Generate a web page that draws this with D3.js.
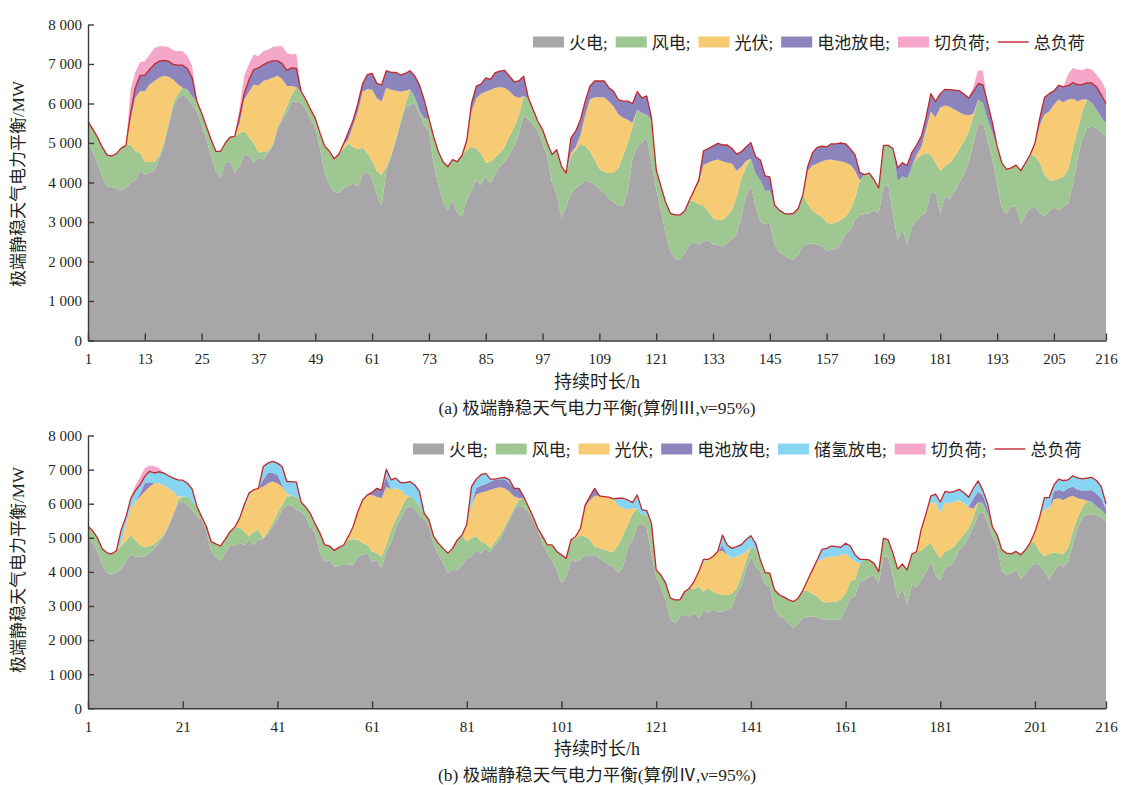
<!DOCTYPE html>
<meta charset="utf-8">
<style>
    body { margin: 0; background: #fff; }
    svg text { font-family: "Liberation Serif", "Noto Sans CJK SC", serif; fill: #231f20; }
    .axis path, .axis line { stroke: #3a3a3a; stroke-width: 1.4; }
    .axis text { font-size: 15px; }
</style>
<body>
<script src="https://cdn.jsdelivr.net/npm/d3@7/dist/d3.min.js"></script>
<script>

    // hours 1..216, one row per day (24 values)
    var hours = d3.range(1, 217);

    // ---------- (a) case III ----------
    var thermalA = [
        5000,4790,4500,4150,3910,3880,3870,3790,3870,3990,4070,4290,4200,4240,4310,4580,4920,5430,5930,6140,6220,6140,5970,5800,
        5460,5080,4670,4300,4120,4500,4540,4240,4410,4710,4670,4500,4620,4580,4750,4920,5340,5590,5760,6050,6050,6010,5840,5590,
        5420,4850,4250,3950,3760,3730,3850,3930,3970,3900,4200,4270,4100,3700,3400,4300,4650,5050,5500,5900,5960,6000,5750,5450,
        5300,4480,3930,3510,3300,3560,3220,3140,3560,3800,4060,3940,4170,3980,4230,4420,4530,4700,4930,5230,5690,5600,5470,5300,
        5000,4670,4000,3700,3100,3400,3720,3850,3950,4060,4010,3950,3850,3750,3600,3500,3420,3400,3800,4600,4900,5000,5150,4500,
        3850,3300,2700,2250,2080,2040,2200,2420,2500,2430,2500,2540,2430,2420,2370,2470,2560,2710,3150,3650,3930,3390,3000,2950,
        3000,2420,2250,2160,2080,2040,2170,2400,2440,2460,2430,2400,2280,2300,2320,2450,2700,2800,3050,3180,3200,3220,3300,3220,
        3900,3930,3220,2550,2800,2450,2880,3050,3150,3250,3770,3720,3200,3650,3580,3750,4000,4200,4500,5000,5450,5500,5090,4580,
        3950,3350,3200,3400,3400,2950,3180,3350,3390,3220,3140,3280,3380,3300,3390,3470,3950,4600,5100,5380,5420,5380,5260,5170
    ];
    var windA = [
        550,560,650,750,790,790,860,1080,1070,970,720,460,320,280,210,90,80,70,70,110,180,210,210,250,
        300,340,420,490,670,500,610,930,840,590,480,500,140,210,40,40,60,60,170,170,350,270,260,260,
        210,400,670,840,840,990,1010,1060,930,940,680,480,450,600,790,100,50,50,50,50,400,170,80,170,
        320,680,850,1010,1100,1020,1310,1550,1260,1100,800,800,330,540,410,330,370,470,470,470,500,540,380,250,
        340,330,710,1130,1310,840,950,980,1030,860,780,630,500,520,640,740,950,1270,1200,820,950,760,570,1090,
        480,600,800,970,1100,1140,1080,1130,1020,1020,920,730,670,630,690,680,740,940,950,750,670,840,1060,840,
        800,1010,1050,1060,1120,1180,1170,1300,1010,840,770,740,710,660,660,600,440,500,550,880,1000,1020,770,640,
        1040,1010,1640,1480,1360,1650,1520,1550,1540,1500,930,780,1100,760,920,900,850,850,800,680,650,510,500,680,
        970,1150,1130,970,1040,1350,1320,1360,1280,1280,1060,780,670,800,760,860,900,750,700,720,600,470,390,330
    ];
    var pvA = [
        0,0,0,0,0,0,0,0,0,640,1360,1560,1790,1960,2050,1980,1700,1180,610,230,0,0,0,0,
        0,0,0,0,0,0,0,0,250,800,1150,1480,1690,1780,1820,1690,1300,970,510,220,20,0,0,0,
        0,0,0,0,0,0,90,110,550,960,1420,1610,1800,1830,1860,2000,1650,1220,750,370,0,0,0,0,
        0,0,0,0,0,0,0,0,180,900,1270,1510,1800,1820,1760,1660,1500,1140,790,440,0,0,0,0,
        0,0,0,0,0,0,80,70,220,780,1310,1580,1810,1880,1820,1690,1350,970,590,90,0,0,0,0,
        0,0,0,0,0,0,0,0,280,550,1030,1230,1450,1530,1480,1350,1180,650,300,150,0,0,0,0,
        0,0,0,0,0,0,0,0,850,1130,1280,1400,1580,1620,1580,1490,1360,1150,700,0,0,0,0,0,
        0,0,0,0,0,0,0,100,210,600,1100,1150,1600,1540,1420,1200,930,670,400,70,0,0,0,0,
        0,0,0,0,0,0,0,0,290,950,1520,1740,1920,2000,1880,1770,1270,710,300,0,0,0,0,0
    ];
    var batteryA = [
        0,0,0,0,0,0,0,0,0,150,250,400,400,380,420,420,390,390,380,490,570,530,470,0,
        0,0,0,0,0,0,0,0,180,150,300,380,450,410,430,430,380,390,400,460,470,30,0,0,
        0,0,0,0,0,0,40,180,130,200,200,370,410,380,420,430,440,470,420,440,470,530,640,470,
        0,0,0,0,0,0,0,0,70,200,310,240,350,270,380,410,440,380,360,430,500,0,0,0,
        0,0,0,0,0,0,380,400,390,350,340,410,410,420,340,380,380,420,470,490,450,380,470,50,
        0,0,0,0,0,0,0,0,0,60,350,360,370,410,410,450,380,420,380,350,410,420,510,380,
        340,0,0,0,0,0,0,0,100,320,410,380,330,400,420,460,480,400,400,190,0,0,0,0,
        0,0,0,340,340,330,360,250,270,300,450,400,350,410,430,490,540,520,440,560,400,460,420,260,
        0,0,0,0,0,0,0,0,40,170,430,450,350,360,390,350,410,420,380,420,500,570,570,500
    ];
    var shedA = [
        0,0,0,0,0,0,0,0,0,600,400,340,360,380,410,380,360,360,360,360,350,320,300,0,
        0,0,0,0,0,0,0,0,200,450,400,380,300,340,320,350,370,440,440,340,370,0,0,0,
        0,0,0,0,0,0,0,0,0,0,0,0,0,0,0,0,0,0,0,0,0,0,0,0,
        0,0,0,0,0,0,0,0,0,0,0,0,0,0,0,0,0,0,0,0,0,0,0,0,
        0,0,0,0,0,0,0,0,0,0,0,0,0,0,0,0,0,0,0,0,0,0,0,0,
        0,0,0,0,0,0,0,0,0,0,0,0,0,0,0,0,0,0,0,0,0,0,0,0,
        0,0,0,0,0,0,0,0,0,0,0,0,0,0,0,0,0,0,0,0,0,0,0,0,
        0,0,0,0,0,0,0,0,0,0,0,0,0,0,0,0,0,0,0,120,340,360,0,0,
        0,0,0,0,0,0,0,0,0,0,0,0,0,0,0,300,370,380,360,370,340,310,350,350
    ];

    // ---------- (b) case IV ----------
    var thermalB = [
        5040,4840,4600,4200,3980,3910,4000,4080,4300,4500,4450,4450,4450,4550,4690,4840,5040,5330,5670,6010,6060,5970,5820,5620,
        5530,5200,4600,4420,4330,4550,4790,4760,4840,4790,4940,4790,4940,4960,5130,5330,5530,5820,5970,5940,5820,5750,5600,5300,
        5130,4550,4300,4350,4160,4160,4240,4210,4210,4450,4500,4530,4300,4350,4100,4600,4850,5300,5550,5850,5930,5850,5650,5550,
        5330,4800,4500,4250,3960,4060,4040,4200,4400,4450,4640,4550,4690,4560,4790,4940,5230,5530,5820,5940,5900,5770,5530,5230,
        4840,4550,4350,4060,3670,3860,4350,4300,4350,4500,4450,4500,4400,4300,4210,4160,3960,4160,4740,4940,5330,5430,5300,4500,
        3850,3550,3200,2600,2490,2690,2740,2690,2790,2640,2890,2790,2890,2840,2840,2890,2980,3380,3600,4100,4450,4160,4010,3620,
        3570,2930,2690,2640,2490,2350,2490,2640,2690,2690,2670,2610,2610,2590,2610,2610,2930,3230,3280,3720,3750,3860,3910,3670,
        4450,4450,3860,3230,3520,3030,3620,3550,3770,4000,4300,3900,3750,4140,4150,4350,4650,4780,5040,5330,5680,5760,5450,5050,
        4790,4010,3910,3960,4080,3800,3940,4160,4240,4210,4010,3780,4010,4210,4160,4300,4800,5300,5600,5690,5690,5670,5600,5480
    ];
    var windB = [
        310,360,400,480,580,620,620,690,600,580,490,340,270,210,130,100,50,50,50,100,150,230,230,300,
        90,130,290,400,430,410,390,520,470,390,100,390,290,30,70,100,190,150,240,290,380,300,300,400,
        270,580,490,410,470,560,550,730,750,490,340,260,300,200,350,180,380,230,270,260,300,280,270,170,
        200,240,340,440,590,630,900,880,490,540,400,340,150,130,100,140,100,70,60,170,260,150,90,50,
        200,240,440,540,830,540,590,690,730,540,490,240,290,350,390,440,830,920,640,760,540,240,370,930,
        210,360,470,630,690,490,680,830,710,930,530,730,530,530,480,430,390,140,300,250,290,490,290,360,
        390,540,640,620,690,780,740,830,750,660,620,520,490,540,520,590,420,490,500,530,620,490,340,340,
        540,490,690,850,710,1030,900,1050,850,750,550,700,650,460,500,410,300,320,240,270,380,260,250,270,
        300,640,640,570,520,700,710,700,600,390,440,750,560,340,370,400,400,300,300,370,370,250,220,190
    ];
    var pvB = [
        0,0,0,0,0,0,0,80,500,790,1120,1420,1640,1740,1780,1660,1460,1070,640,100,0,0,0,0,
        0,0,0,0,0,0,0,30,260,690,1170,1230,1220,1510,1400,1220,880,530,100,0,0,0,0,0,
        0,0,0,0,0,0,0,100,370,830,1270,1440,1660,1650,1710,1720,1190,920,580,140,0,0,0,0,
        0,0,0,0,0,0,0,0,510,980,1220,1440,1520,1720,1560,1400,1120,760,330,50,0,0,0,0,
        0,0,0,0,0,0,0,50,200,860,1160,1490,1540,1560,1590,1530,1150,790,460,150,0,0,0,0,
        0,0,0,0,0,0,0,0,220,440,880,850,1030,1230,1300,1180,1030,930,600,250,0,0,0,0,
        0,0,0,0,0,0,0,0,330,710,1010,1240,1330,1320,1320,1300,1180,700,520,0,0,0,0,0,
        0,0,0,0,0,0,0,0,640,960,1180,1450,1350,1430,1370,1300,1150,910,620,250,0,0,0,0,
        0,0,0,0,0,0,0,0,340,1020,1390,1340,1560,1610,1580,1490,1030,560,230,30,0,0,0,0
    ];
    var batteryB = [
        0,0,0,0,0,0,0,0,0,0,0,100,250,130,0,0,0,0,0,0,0,0,0,0,
        0,0,0,0,0,0,0,0,0,0,0,0,0,200,300,250,250,50,0,0,0,0,0,0,
        0,0,0,0,0,0,0,0,0,0,0,30,70,250,240,300,0,0,0,0,0,0,0,0,
        0,0,0,0,0,0,0,0,0,0,200,200,220,240,250,240,270,240,240,290,50,0,0,0,
        0,0,0,0,0,0,0,0,0,60,110,220,0,0,0,0,0,0,0,0,0,0,0,0,
        0,0,0,0,0,0,0,0,0,0,0,0,0,0,160,0,0,0,0,0,0,0,0,0,
        0,0,0,0,0,0,0,0,0,0,0,0,0,0,0,0,0,0,0,0,0,0,0,0,
        0,0,0,0,0,0,0,0,0,0,0,0,0,0,0,0,0,0,0,300,300,230,150,0,
        0,0,0,0,0,0,0,0,0,0,0,0,230,250,250,260,270,250,260,300,340,380,330,180
    ];
    var hydrogenB = [
        0,0,0,0,0,0,0,380,200,270,320,250,190,320,300,330,350,370,390,490,480,400,380,0,
        0,0,0,0,0,0,0,0,0,100,100,0,0,390,290,340,340,540,340,420,430,0,0,0,
        0,0,0,0,0,0,0,0,0,0,0,0,0,0,0,210,280,300,220,370,420,420,440,0,
        0,0,0,0,0,0,0,0,0,530,260,320,310,70,20,30,50,100,0,0,0,0,0,0,
        0,0,0,0,0,0,0,0,0,0,0,0,0,0,0,10,220,290,270,180,390,150,130,0,
        0,0,0,0,0,0,0,0,0,0,70,0,0,0,300,290,290,290,300,350,320,190,50,0,
        0,0,0,0,0,0,0,0,0,0,50,290,260,310,290,220,310,340,200,120,0,0,0,0,
        0,0,0,0,0,0,0,0,0,0,190,230,300,330,310,300,320,310,290,310,310,140,150,0,
        0,0,0,0,0,0,0,0,0,0,340,310,190,310,320,250,320,350,340,360,370,380,350,150
    ];
    var shedB = [
        0,0,0,0,0,0,0,0,0,60,150,220,250,170,200,120,0,0,0,0,0,0,0,0,
        0,0,0,0,0,0,0,0,0,0,0,0,0,0,0,0,0,0,0,0,0,0,0,0,
        0,0,0,0,0,0,0,0,0,0,0,0,0,0,0,0,0,0,0,0,0,0,0,0,
        0,0,0,0,0,0,0,0,0,0,0,0,0,0,0,0,0,0,0,0,0,0,0,0,
        0,0,0,0,0,0,0,0,0,0,0,0,0,0,0,0,0,0,0,0,0,0,0,0,
        0,0,0,0,0,0,0,0,0,0,0,0,0,0,0,0,0,0,0,0,0,0,0,0,
        0,0,0,0,0,0,0,0,0,0,0,0,0,0,0,0,0,0,0,0,0,0,0,0,
        0,0,0,0,0,0,0,0,0,0,0,0,0,0,0,0,0,0,0,0,0,0,0,0,
        0,0,0,0,0,0,0,0,0,0,0,0,0,0,0,0,0,0,0,0,0,0,0,0
    ];

    var yTicks = [0, 1000, 2000, 3000, 4000, 5000, 6000, 7000, 8000];
    var xTicksA = [1, 13, 25, 37, 49, 61, 73, 85, 97, 109, 121, 133, 145, 157, 169, 181, 193, 205, 216];
    var xTicksB = [1, 21, 41, 61, 81, 101, 121, 141, 161, 181, 201, 216];

    var colors = {
        thermal: "#a8a6a9", wind: "#9fc791", pv: "#f6cb74", battery: "#8c84bd",
        hydrogen: "#88d4f3", shed: "#f4a7c9", load: "#c1272d"
    };
    var names = {
        thermal: "火电;", wind: "风电;", pv: "光伏;", battery: "电池放电;",
        hydrogen: "储氢放电;", shed: "切负荷;", load: "总负荷"
    };

    var fmt = d3.formatLocale({decimal: ".", thousands: " ", grouping: [3], currency: ["", ""]}).format(",");

    var svg = d3.select("body").append("svg")
            .attr("width", 1122)
            .attr("height", 785);

    var x = d3.scaleLinear().domain([1, 216]).range([88, 1106]);

    function drawPanel(p) {
        var y = d3.scaleLinear().domain([0, 8000]).range([p.y0, p.y1]);

        var rows = hours.map(function(h, i) {
            var r = {h: h};
            p.keys.forEach(function(k) { r[k] = p.series[k][i]; });
            return r;
        });
        var layers = d3.stack().keys(p.keys)(rows);

        var area = d3.area()
                .x(function(d) { return x(d.data.h); })
                .y0(function(d) { return y(d[0]); })
                .y1(function(d) { return y(d[1]); });

        var g = svg.append("g");
        g.selectAll("path.layer")
                .data(layers)
                .enter().append("path")
                .attr("class", "layer")
                .attr("fill", function(d) { return colors[d.key]; })
                .attr("d", area);

        // total load = top of the last supply layer (below load shedding)
        var top = layers[layers.length - 2];
        g.append("path")
                .datum(top)
                .attr("fill", "none")
                .attr("stroke", colors.load)
                .attr("stroke-width", 1.3)
                .attr("stroke-linejoin", "round")
                .attr("d", d3.line()
                        .x(function(d) { return x(d.data.h); })
                        .y(function(d) { return y(d[1]); }));

        svg.append("g")
                .attr("class", "axis")
                .attr("transform", "translate(88,0)")
                .call(d3.axisLeft(y).tickValues(yTicks).tickFormat(fmt).tickSize(-6).tickSizeOuter(0).tickPadding(6))
                .call(function(s) { s.selectAll("text").style("font-size", "15px"); });

        svg.append("g")
                .attr("class", "axis")
                .attr("transform", "translate(0," + p.y0 + ")")
                .call(d3.axisBottom(x).tickValues(p.xTicks).tickSize(-7).tickSizeOuter(0).tickPadding(13))
                .call(function(s) { s.selectAll("text").style("font-size", "15px"); });

        // axis titles and caption
        svg.append("text")
                .attr("transform", "translate(24," + p.ylabelY + ") rotate(-90)")
                .attr("text-anchor", "middle")
                .style("font-size", "17px")
                .text("极端静稳天气电力平衡/MW");

        svg.append("text")
                .attr("x", 597)
                .attr("y", p.y0 + 47)
                .attr("text-anchor", "middle")
                .style("font-size", "18px")
                .text("持续时长/h");

        svg.append("text")
                .attr("x", 597)
                .attr("y", p.y0 + 73)
                .attr("text-anchor", "middle")
                .style("font-size", "17.5px")
                .text(p.caption);

        // legend
        var lx = p.legendX, ly = p.legendY;
        p.legend.forEach(function(k) {
            if (k === "load") {
                svg.append("line")
                        .attr("x1", lx).attr("x2", lx + 31)
                        .attr("y1", ly).attr("y2", ly)
                        .attr("stroke", colors.load).attr("stroke-width", 1.4);
            } else {
                svg.append("rect")
                        .attr("x", lx).attr("y", ly - 5.5)
                        .attr("width", 31).attr("height", 11)
                        .attr("fill", colors[k]);
            }
            var t = svg.append("text")
                    .attr("x", lx + 36)
                    .attr("y", ly + 6.5)
                    .style("font-size", "17px")
                    .text(names[k]);
            lx += 36 + t.node().getComputedTextLength() + 8;
        });
    }

    drawPanel({
        y0: 340.5, y1: 24.5,
        keys: ["thermal", "wind", "pv", "battery", "shed"],
        series: {thermal: thermalA, wind: windA, pv: pvA, battery: batteryA, shed: shedA},
        xTicks: xTicksA,
        ylabelY: 184,
        caption: "(a) 极端静稳天气电力平衡(算例Ⅲ,ν=95%)",
        legendX: 533, legendY: 42,
        legend: ["thermal", "wind", "pv", "battery", "shed", "load"]
    });

    drawPanel({
        y0: 708.3, y1: 435.5,
        keys: ["thermal", "wind", "pv", "battery", "hydrogen", "shed"],
        series: {thermal: thermalB, wind: windB, pv: pvB, battery: batteryB, hydrogen: hydrogenB, shed: shedB},
        xTicks: xTicksB,
        ylabelY: 570,
        caption: "(b) 极端静稳天气电力平衡(算例Ⅳ,ν=95%)",
        legendX: 413, legendY: 449,
        legend: ["thermal", "wind", "pv", "battery", "hydrogen", "shed", "load"]
    });

</script>
